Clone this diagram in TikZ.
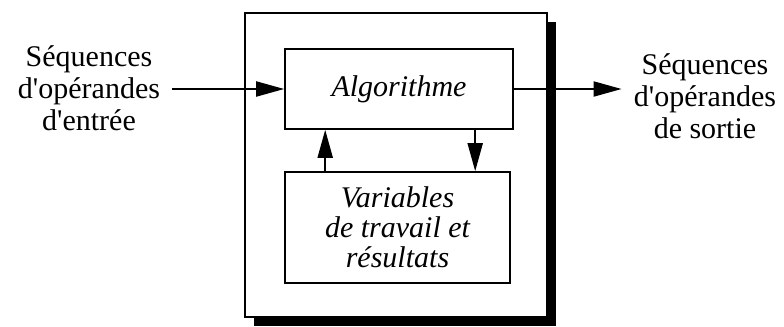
\documentclass[tikz,border=0pt]{standalone}
\usepackage{fontspec}
\setmainfont{Liberation Serif}
\usepackage{tikz}
\usetikzlibrary{
    arrows.meta,
    positioning,
    shadows
}

\newcommand{\apos}{\textquotesingle}

\tikzset{
    bloc/.style={draw=black,line width=0.8pt,fill=white,align=center,
        font=\fontsize{15}{15}\selectfont\itshape},
    legende/.style={align=center,inner sep=6pt,font=\fontsize{15}{16}\selectfont},
    flux/.style={line width=1pt,-{Triangle[length=14pt,width=7.5pt]}}
}

\begin{document}
\begin{tikzpicture}[x=0.5pt,y=-0.5pt]
    \useasboundingbox (0,0) rectangle (784,327);

    % boite englobante avec ombre
    \node[draw=black,line width=1pt,fill=white,minimum width=151pt,minimum height=152pt,
        drop shadow={shadow xshift=4.5pt,shadow yshift=-4.5pt,fill=black,opacity=1}]
        (machine) at (396,165) {};

    \node[bloc,minimum width=114pt,minimum height=40pt] (algo) at (399,89) {Algorithme};
    \node[bloc,minimum width=112.5pt,minimum height=55.5pt] (vars) at (397.5,227.5)
        {Variables\\de travail et\\résultats};

    \node[legende] (entree) at (89,88) {Séquences\\d\apos opérandes\\d\apos entrée};
    \node[legende] (sortie) at (705,96) {Séquences\\d\apos opérandes\\de sortie};

    \draw[flux] (entree.east |- algo.west) -- (algo.west);
    \draw[flux] (algo.east) -- (sortie.west |- algo.east);
    \draw[flux] ([xshift=20.5pt]vars.north west) -- ([xshift=20.5pt]algo.south west);
    \draw[flux] ([xshift=95.5pt]algo.south west) -- ([xshift=95.5pt]vars.north west);
\end{tikzpicture}
\end{document}
